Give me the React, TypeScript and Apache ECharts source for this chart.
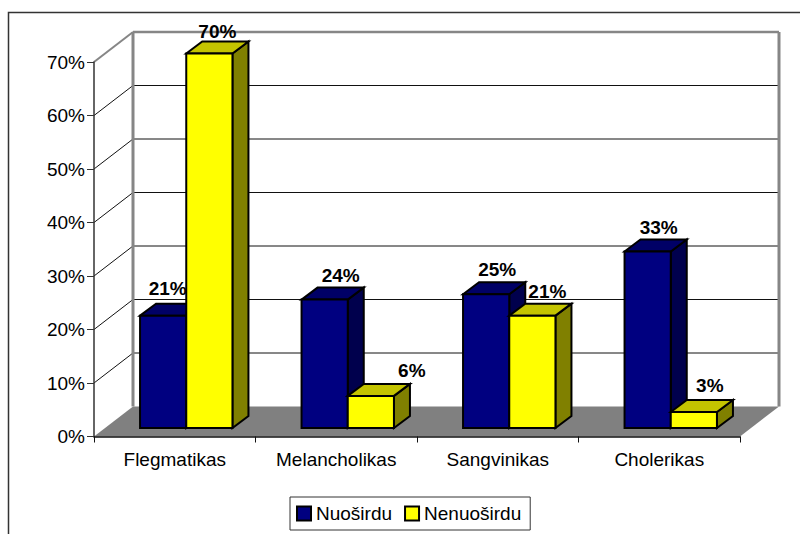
import React, { useEffect, useRef } from "react";
import * as echarts from "echarts";

const categories = ["Flegmatikas", "Melancholikas", "Sangvinikas", "Cholerikas"];
const nuosirdu = [21, 24, 25, 33];
const nenuosirdu = [70, 6, 21, 3];
const yTicks = [0, 10, 20, 30, 40, 50, 60, 70];

// label nudges (px from the bar's front-top centre), per bar
const nuoLabelDx = [4.5, 16, 11, 11];
const nuoLabelDy = [-27, -24, -25, -24];
const nenLabelDx = [8, 41, 15, 16];
const nenLabelDy = [-22, -25, -24, -26];

const FONT = "'Liberation Sans', Arial, sans-serif";
const FONT_SIZE = 19;
const WALL_DX = 39;
const WALL_DY = -30;
const BAR_OFF_X = 11.5;
const BAR_OFF_Y = -8.5;
const BAR_W = 46.2;
const DEPTH_X = 16;
const DEPTH_Y = -12;

function wallItem(params: any, api: any) {
  const v = api.value(0);
  const cs = params.coordSys;
  const [, y] = api.coord([0, v]);
  const x0 = cs.x;
  const x1 = cs.x + cs.width;
  const isTop = params.dataIndex === yTicks.length - 1;
  const children: any[] = [];
  if (params.dataIndex === 0) {
    children.push({
      type: "polygon",
      shape: { points: [[x0, y], [x0 + WALL_DX, y + WALL_DY], [x1 + WALL_DX, y + WALL_DY], [x1, y]] },
      style: { fill: "#808080", stroke: null },
    });
    return { type: "group", children };
  }
  children.push({
    type: "line",
    shape: { x1: x0, y1: y, x2: x0 + WALL_DX, y2: y + WALL_DY },
    style: { stroke: isTop ? "#868686" : "#111", lineWidth: isTop ? 2 : 1 },
  });
  children.push({
    type: "line",
    shape: { x1: x0 + WALL_DX, y1: y + WALL_DY, x2: x1 + WALL_DX, y2: y + WALL_DY },
    style: { stroke: isTop ? "#868686" : "#111", lineWidth: isTop ? 2.5 : 1 },
  });
  if (isTop) {
    const [, yb] = api.coord([0, 0]);
    children.push({
      type: "line",
      shape: { x1: x0 + WALL_DX, y1: y + WALL_DY, x2: x0 + WALL_DX, y2: yb + WALL_DY },
      style: { stroke: "#868686", lineWidth: 3 },
    });
    children.push({
      type: "line",
      shape: { x1: x1 + WALL_DX, y1: y + WALL_DY, x2: x1 + WALL_DX, y2: yb + WALL_DY },
      style: { stroke: "#868686", lineWidth: 3 },
    });
  }
  return { type: "group", children };
}

function barItem(slot: number, front: string, top: string, side: string) {
  return (_params: any, api: any) => {
    const cat = api.value(0);
    const [cx, yv] = api.coord([cat, api.value(1)]);
    const [, y0] = api.coord([cat, 0]);
    const xl = cx + BAR_OFF_X - BAR_W + slot * BAR_W;
    const xr = xl + BAR_W;
    const yt = yv + BAR_OFF_Y;
    const yb = y0 + BAR_OFF_Y;
    const stroke = { stroke: "#000", lineWidth: 2, lineJoin: "miter" };
    return {
      type: "group",
      children: [
        {
          type: "polygon",
          shape: { points: [[xr, yt], [xr + DEPTH_X, yt + DEPTH_Y], [xr + DEPTH_X, yb + DEPTH_Y], [xr, yb]] },
          style: { fill: side, ...stroke },
        },
        {
          type: "polygon",
          shape: { points: [[xl, yt], [xl + DEPTH_X, yt + DEPTH_Y], [xr + DEPTH_X, yt + DEPTH_Y], [xr, yt]] },
          style: { fill: top, ...stroke },
        },
        {
          type: "rect",
          shape: { x: xl, y: yt, width: BAR_W, height: yb - yt },
          style: { fill: front, ...stroke },
        },
      ],
    };
  };
}

function labelItem(slot: number, dxs: number[], dys: number[]) {
  return (params: any, api: any) => {
    const cat = api.value(0);
    const v = api.value(1);
    const [cx, yv] = api.coord([cat, v]);
    const xl = cx + BAR_OFF_X - BAR_W + slot * BAR_W;
    return {
      type: "text",
      style: {
        x: xl + BAR_W / 2 + dxs[params.dataIndex],
        y: yv + BAR_OFF_Y + dys[params.dataIndex],
        text: v + "%",
        fill: "#000",
        font: `bold ${FONT_SIZE}px ${FONT}`,
        align: "center",
        verticalAlign: "middle",
      },
    };
  };
}

const toData = (vals: number[]) => vals.map((v, i) => [i, v]);

export default function App() {
  const ref = useRef<HTMLDivElement>(null);
  useEffect(() => {
    document.body.style.margin = "0";
    document.body.style.overflow = "hidden";
    const chart = echarts.init(ref.current!, undefined, { renderer: "svg" });
    chart.setOption({
      animation: false,
      backgroundColor: "#fff",
      textStyle: { fontFamily: FONT },
      grid: { left: 94, top: 62, width: 646, height: 374.5, containLabel: false },
      legend: {
        data: ["Nuoširdu", "Nenuoširdu"],
        left: 290,
        top: 497,
        orient: "horizontal",
        padding: [7, 9, 7, 6],
        itemGap: 12,
        itemWidth: 14,
        itemHeight: 14,
        icon: "rect",
        backgroundColor: "#fff",
        borderColor: "#333",
        borderWidth: 1,
        borderRadius: 0,
        selectedMode: false,
        textStyle: { fontFamily: FONT, fontSize: FONT_SIZE, color: "#000" },
      },
      xAxis: {
        type: "category",
        data: categories,
        boundaryGap: true,
        z: 5,
        axisLine: { show: true, lineStyle: { color: "#111", width: 1.5 } },
        axisTick: { show: true, alignWithLabel: false, length: 6, lineStyle: { color: "#111", width: 1 } },
        axisLabel: { fontFamily: FONT, fontSize: FONT_SIZE, color: "#000", margin: 13, interval: 0 },
        splitLine: { show: false },
      },
      yAxis: {
        type: "value",
        min: 0,
        max: 70,
        interval: 10,
        z: 5,
        axisLine: { show: true, lineStyle: { color: "#333", width: 1.5 } },
        axisTick: { show: true, length: 7, lineStyle: { color: "#333", width: 1 } },
        axisLabel: { fontFamily: FONT, fontSize: FONT_SIZE, color: "#000", margin: 9, formatter: "{value}%" },
        splitLine: { show: false },
      },
      graphic: [
        {
          type: "polyline",
          shape: { points: [[8.5, 534], [8.5, 12.5], [800, 12.5]] },
          style: { stroke: "#333", lineWidth: 1.5, fill: null },
          silent: true,
        },
      ],
      series: [
        {
          type: "custom",
          name: "walls",
          coordinateSystem: "cartesian2d",
          z: 1,
          silent: true,
          clip: false,
          data: yTicks.map((t) => [t]),
          encode: { y: 0 },
          renderItem: wallItem,
        },
        {
          type: "custom",
          name: "Nuoširdu",
          coordinateSystem: "cartesian2d",
          z: 6,
          clip: false,
          itemStyle: { color: "#000080", borderColor: "#000", borderWidth: 1.5 },
          data: toData(nuosirdu),
          encode: { x: 0, y: 1 },
          renderItem: barItem(0, "#000080", "#000066", "#00004d"),
        },
        {
          type: "custom",
          name: "Nenuoširdu",
          coordinateSystem: "cartesian2d",
          z: 7,
          clip: false,
          itemStyle: { color: "#ffff00", borderColor: "#000", borderWidth: 1.5 },
          data: toData(nenuosirdu),
          encode: { x: 0, y: 1 },
          renderItem: barItem(1, "#ffff00", "#c4c400", "#808000"),
        },
        {
          type: "custom",
          name: "labels0",
          coordinateSystem: "cartesian2d",
          z: 8,
          clip: false,
          silent: true,
          data: toData(nuosirdu),
          encode: { x: 0, y: 1 },
          renderItem: labelItem(0, nuoLabelDx, nuoLabelDy),
        },
        {
          type: "custom",
          name: "labels1",
          coordinateSystem: "cartesian2d",
          z: 8,
          clip: false,
          silent: true,
          data: toData(nenuosirdu),
          encode: { x: 0, y: 1 },
          renderItem: labelItem(1, nenLabelDx, nenLabelDy),
        },
      ],
    });
    return () => chart.dispose();
  }, []);
  return <div ref={ref} style={{ width: 800, height: 534 }} />;
}
